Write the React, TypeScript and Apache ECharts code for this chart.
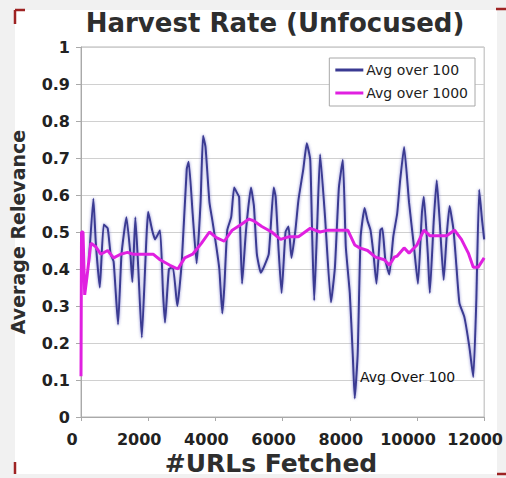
import { useEffect, useRef } from "react";
import * as echarts from "echarts";

// ---- data ----
const URLS_100 = [
  235, 368, 441, 559, 676, 794, 882, 971, 1103, 1206, 1353, 1470, 1529, 1618, 1706, 1809,
  2000, 2118, 2206, 2353, 2441, 2500, 2618, 2735, 2867, 3000, 3147, 3206, 3323, 3441, 3559,
  3632, 3706, 3823, 3912, 4029, 4117, 4206, 4265, 4353, 4470, 4559, 4647, 4706, 4794, 4912,
  5059, 5147, 5235, 5353, 5441, 5588, 5735, 5794, 5882, 5970, 6088, 6176, 6265, 6382, 6470,
  6617, 6720, 6823, 6882, 6941, 7029, 7117, 7264, 7441, 7558, 7676, 7794, 7882, 8000, 8088,
  8147, 8235, 8323, 8441, 8529, 8617, 8706, 8794, 8911, 8970, 9058, 9176, 9294, 9411, 9500,
  9617, 9764, 9911, 10029, 10146, 10205, 10323, 10382, 10499, 10588, 10676, 10794, 10882,
  10970, 11088, 11176, 11264, 11411, 11558, 11676, 11764, 11852, 11940, 12000,
];
const AVG_100 = [
  0.42, 0.59, 0.47, 0.35, 0.52, 0.51, 0.44, 0.42, 0.25, 0.44, 0.54, 0.44, 0.365, 0.54, 0.4, 0.215,
  0.555, 0.505, 0.48, 0.505, 0.335, 0.255, 0.4, 0.405, 0.3, 0.42, 0.67, 0.69, 0.55, 0.415, 0.58,
  0.76, 0.73, 0.58, 0.53, 0.46, 0.4, 0.28, 0.35, 0.505, 0.54, 0.62, 0.605, 0.595, 0.36, 0.505,
  0.62, 0.57, 0.44, 0.39, 0.405, 0.44, 0.62, 0.595, 0.45, 0.335, 0.5, 0.515, 0.43, 0.505, 0.585,
  0.67, 0.74, 0.695, 0.487, 0.315, 0.515, 0.71, 0.54, 0.31, 0.405, 0.62, 0.695, 0.46, 0.335, 0.17,
  0.05, 0.17, 0.487, 0.565, 0.53, 0.505, 0.44, 0.36, 0.505, 0.51, 0.425, 0.385, 0.487, 0.55, 0.64,
  0.73, 0.58, 0.46, 0.36, 0.55, 0.595, 0.44, 0.335, 0.53, 0.64, 0.53, 0.37, 0.487,
  0.57, 0.505, 0.405, 0.308, 0.27, 0.19, 0.108, 0.308, 0.614, 0.53, 0.48,
];
const URLS_1000 = [
  0, 15, 60, 110, 180, 294, 441, 588, 794, 971, 1176, 1382, 1559, 1765, 1970, 2147, 2353, 2647,
  2882, 3088, 3323, 3588, 3823, 4029, 4265, 4500, 4764, 5000, 5147, 5382, 5676, 5941, 6176, 6470,
  6823, 7117, 7353, 7647, 7941, 8147, 8294, 8529, 8764, 9029, 9176, 9323, 9411, 9617, 9764, 10000,
  10205, 10382, 10676, 10882, 11117, 11323, 11529, 11676, 11823, 12000,
];
const AVG_1000 = [
  0.11, 0.5, 0.5, 0.33, 0.38, 0.47, 0.46, 0.44, 0.45, 0.43, 0.44, 0.445, 0.44, 0.44, 0.44, 0.44,
  0.425, 0.41, 0.4, 0.43, 0.44, 0.47, 0.5, 0.485, 0.475, 0.505, 0.52, 0.535, 0.53, 0.515, 0.5, 0.48,
  0.487, 0.487, 0.51, 0.5, 0.505, 0.505, 0.505, 0.465, 0.457, 0.45, 0.432, 0.425, 0.41, 0.432,
  0.435, 0.457, 0.443, 0.465, 0.505, 0.49, 0.49, 0.49, 0.505, 0.48, 0.443, 0.405, 0.405, 0.43,
];
const SERIES_NAMES = ["Avg over 100", "Avg over 1000"];
const TITLE = "Harvest Rate (Unfocused)";
const X_TITLE = "#URLs Fetched";
const Y_TITLE = "Average Relevance";
const ANNOTATION = { text: "Avg Over 100", x: 8290, y: 0.108 };
const X_RANGE = { min: 0, max: 12000, step: 2000 };
const Y_RANGE = { min: 0, max: 1, step: 0.1 };

const FONT = "DejaVu Sans";
const RED = "#9e2323";

export default function App() {
  const ref = useRef<HTMLDivElement>(null);
  useEffect(() => {
    if (!ref.current) return;
    const chart = echarts.init(ref.current, null, { renderer: "svg" });
    const d100 = URLS_100.map((x, i) => [x, AVG_100[i]]);
    const d1000 = URLS_1000.map((x, i) => [x, AVG_1000[i]]);
    const corner = (x1: number, y1: number, x2: number, y2: number) => ({
      type: "line",
      shape: { x1, y1, x2, y2 },
      style: { stroke: RED, lineWidth: 2.5 },
      z: 100,
    });
    const centredText = (text: string, x: number, y: number, size: number) => ({
      type: "text",
      x,
      y,
      style: {
        text,
        font: `bold ${size}px "${FONT}"`,
        fill: "#2e2e2e",
        align: "center",
        verticalAlign: "middle",
        textAlign: "center",
        textVerticalAlign: "middle",
      },
    });
    chart.setOption({
      animation: false,
      backgroundColor: "#f1f1f1",
      textStyle: { fontFamily: FONT },
      graphic: {
        elements: [
          { type: "rect", z: -100, shape: { x: 15, y: 10, width: 482, height: 464 }, style: { fill: "#ffffff" } },
          corner(15, 10, 25, 10),
          corner(15, 10, 15, 24),
          corner(496, 9, 506, 9),
          corner(15, 462, 15, 474),
          corner(497, 474, 506, 474),
          centredText(TITLE, 275, 23, 26),
          centredText(X_TITLE, 271, 463, 25),
        ],
      },
      grid: {
        left: 80,
        right: 18,
        top: 47,
        bottom: 61,
        show: true,
        borderColor: "#b5b5b5",
        borderWidth: 1,
        backgroundColor: "#ffffff",
      },
      legend: {
        orient: "vertical",
        right: 31,
        top: 58,
        backgroundColor: "#ffffff",
        borderColor: "#a8a8a8",
        borderWidth: 1,
        padding: [5, 7, 6, 6],
        itemGap: 9,
        itemWidth: 28,
        itemHeight: 3,
        icon: "rect",
        textStyle: { fontFamily: FONT, fontSize: 14, color: "#222", padding: [0, 0, 0, -2] },
        data: SERIES_NAMES,
      },
      xAxis: {
        type: "value",
        min: X_RANGE.min,
        max: X_RANGE.max,
        interval: X_RANGE.step,
        axisLine: { show: true, lineStyle: { color: "#a9a9a9" } },
        axisTick: { show: true, length: 4, lineStyle: { color: "#a9a9a9" } },
        splitLine: { show: false },
        axisLabel: {
          color: "#222",
          fontFamily: FONT,
          fontWeight: "bold",
          fontSize: 16,
          margin: 14,
          padding: [0, 18, 0, 0],
          formatter: (v: number) => String(Math.round(v)),
        },
      },
      yAxis: {
        type: "value",
        min: Y_RANGE.min,
        max: Y_RANGE.max,
        interval: Y_RANGE.step,
        name: Y_TITLE,
        nameLocation: "middle",
        nameRotate: 90,
        nameGap: 54,
        nameTextStyle: { fontFamily: FONT, fontSize: 19, fontWeight: "bold", color: "#2e2e2e" },
        axisLine: { show: true, lineStyle: { color: "#a9a9a9" } },
        axisTick: { show: true, length: 5, lineStyle: { color: "#a9a9a9" } },
        splitLine: { show: true, lineStyle: { color: "#d0d0d0", width: 1 } },
        axisLabel: {
          color: "#222",
          fontFamily: FONT,
          fontWeight: "bold",
          fontSize: 16,
          margin: 11,
          formatter: (v: number) => String(Math.round(v * 10) / 10),
        },
      },
      series: [
        {
          name: SERIES_NAMES[0],
          type: "line",
          data: d100,
          showSymbol: false,
          symbol: "none",
          smooth: 0.15,
          color: "#3a3a92",
          lineStyle: {
            color: "#3a3a92",
            width: 2,
            shadowColor: "rgba(110,110,200,0.8)",
            shadowBlur: 3,
          },
          markPoint: {
            symbol: "circle",
            symbolSize: 1,
            itemStyle: { color: "rgba(0,0,0,0)" },
            label: {
              show: true,
              position: "right",
              distance: 0,
              formatter: ANNOTATION.text,
              fontFamily: FONT,
              fontSize: 14,
              color: "#111",
            },
            data: [{ coord: [ANNOTATION.x, ANNOTATION.y] }],
          },
          z: 3,
        },
        {
          name: SERIES_NAMES[1],
          type: "line",
          data: d1000,
          showSymbol: false,
          symbol: "none",
          color: "#e020e0",
          lineStyle: { color: "#e020e0", width: 3 },
          z: 4,
        },
      ],
    });
    return () => chart.dispose();
  }, []);
  return (
    <div
      ref={ref}
      style={{ position: "fixed", left: 0, top: 0, width: 506, height: 478 }}
    />
  );
}
